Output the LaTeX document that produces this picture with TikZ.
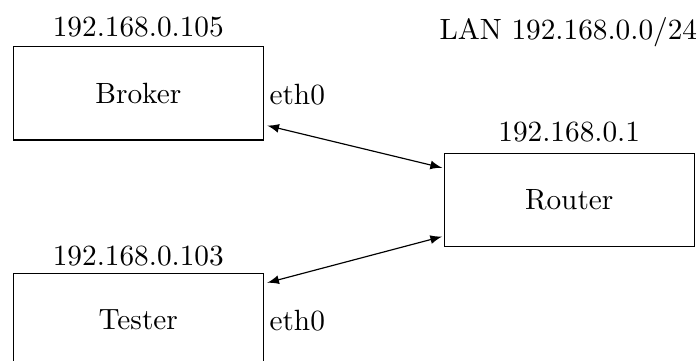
\documentclass[tikz,border=0pt]{standalone}
\usetikzlibrary{arrows}
\begin{document}
\begin{tikzpicture}[x=0.3413pt,y=-0.3413pt,
  hostbox/.style={draw,minimum width=85.3pt,minimum height=31.85pt,inner sep=0pt},
  iplabel/.style={inner sep=0pt},
  link/.style={latex-latex}]
\useasboundingbox (0,0) rectangle (699,360);
\node[hostbox] (broker) at (138.3,93.3) {Broker};
\node[hostbox] (tester) at (138.3,320) {Tester};
\node[hostbox] (router) at (569.2,200) {Router};
\node[iplabel] (brokerip) at (138.3,27.3) {192.168.0.105};
\node[iplabel] (testerip) at (138.3,255.8) {192.168.0.103};
\node[iplabel] (routerip) at (569.2,132.3) {192.168.0.1};
\node[inner sep=0pt,anchor=base] (lan) at (568.3,39) {LAN 192.168.0.0/24};
\node[inner sep=0pt,anchor=west] (eth0a) at (269,94.2) {eth0};
\node[inner sep=0pt,anchor=west] (eth0b) at (269,320.5) {eth0};
\draw[link] ([shift={(3.4,-15)}]broker.south east) -- ([shift={(-1.6,15)}]router.north west);
\draw[link] ([shift={(3.4,10)}]tester.north east) -- ([shift={(-1.6,-10.7)}]router.south west);
\end{tikzpicture}
\end{document}
